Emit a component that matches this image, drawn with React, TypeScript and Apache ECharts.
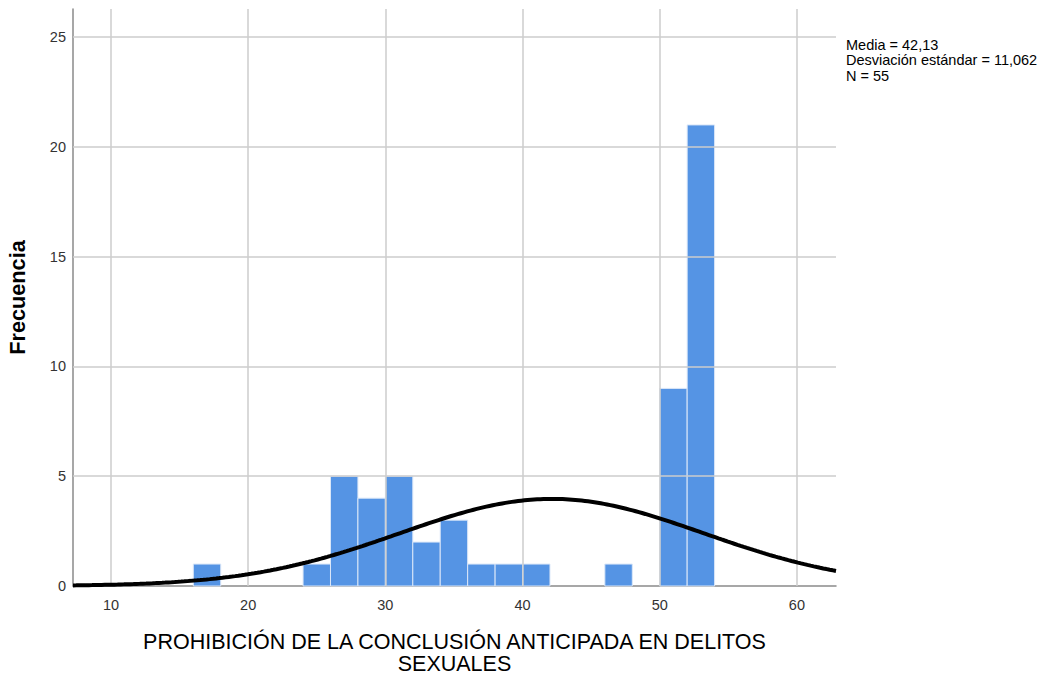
import React, { useEffect, useRef } from "react";
import * as echarts from "echarts";

const binStarts = [16, 24, 26, 28, 30, 32, 34, 36, 38, 40, 46, 50, 52];
const binCounts = [1, 1, 5, 4, 5, 2, 3, 1, 1, 1, 1, 9, 21];
const BIN_WIDTH = 2;
const MEAN = 42.13;
const SD = 11.062;
const N = 55;
const xTicks = [10, 20, 30, 40, 50, 60];
const yTicks = [0, 5, 10, 15, 20, 25];
const X_MIN = 7.23;
const X_MAX = 62.85;
const Y_MAX = 26.28;
const statsLines = ["Media = 42,13", "Desviación estándar = 11,062", "N = 55"];
const xTitle = "PROHIBICIÓN DE LA CONCLUSIÓN ANTICIPADA EN DELITOS\nSEXUALES";
const yTitle = "Frecuencia";

function normalCurve(): number[][] {
  const pts: number[][] = [];
  const steps = 240;
  for (let i = 0; i <= steps; i++) {
    const x = X_MIN + ((X_MAX - X_MIN) * i) / steps;
    const z = (x - MEAN) / SD;
    const y = (N * BIN_WIDTH * Math.exp(-0.5 * z * z)) / (SD * Math.sqrt(2 * Math.PI));
    pts.push([x, y]);
  }
  return pts;
}

const FONT = "Liberation Sans, Arial, sans-serif";

export default function App() {
  const ref = useRef<HTMLDivElement>(null);
  useEffect(() => {
    if (!ref.current) return;
    const chart = echarts.init(ref.current, undefined, { renderer: "svg" });
    const gridColor = "#cccccc";
    const histData = binStarts.map((s, i) => [s, s + BIN_WIDTH, binCounts[i]]);
    chart.setOption({
      animation: false,
      backgroundColor: "#ffffff",
      textStyle: { fontFamily: FONT },
      grid: {
        left: 73,
        top: 9,
        right: 207,
        bottom: 91,
        containLabel: false,
        outerBoundsMode: "none",
      },
      xAxis: {
        type: "value",
        min: X_MIN,
        max: X_MAX,
        name: xTitle,
        nameLocation: "middle",
        nameGap: 45,
        nameTextStyle: {
          fontSize: 21.5,
          color: "#000",
          lineHeight: 22,
          verticalAlign: "top",
          fontFamily: FONT,
        },
        axisLine: { show: true, onZero: false, lineStyle: { color: "#8a8a8a", width: 1.5 } },
        axisTick: { show: false },
        splitLine: { show: false },
        axisLabel: {
          customValues: xTicks,
          fontSize: 14.5,
          color: "#333",
          margin: 11,
          fontFamily: FONT,
        },
      },
      yAxis: {
        type: "value",
        min: 0,
        max: Y_MAX,
        name: yTitle,
        nameLocation: "middle",
        nameGap: 45,
        nameRotate: 90,
        nameTextStyle: {
          fontSize: 21.7,
          fontWeight: "bold",
          color: "#000",
          fontFamily: FONT,
        },
        axisLine: { show: true, lineStyle: { color: "#8a8a8a", width: 1.5 } },
        axisTick: { show: false },
        splitLine: { show: false },
        axisLabel: {
          customValues: yTicks,
          fontSize: 14.5,
          color: "#333",
          margin: 7,
          fontFamily: FONT,
        },
      },
      series: [
        {
          type: "line",
          data: [],
          silent: true,
          markLine: {
            symbol: "none",
            silent: true,
            label: { show: false },
            lineStyle: { color: gridColor, width: 1.5, type: "solid" },
            data: [
              ...xTicks.map((v) => ({ xAxis: v })),
              ...yTicks.filter((v) => v > 0).map((v) => ({ yAxis: v })),
            ],
          },
        },
        {
          type: "custom",
          data: histData,
          renderItem: (params: any, api: any) => {
            const p0 = api.coord([api.value(0), api.value(2)]);
            const p1 = api.coord([api.value(1), 0]);
            return {
              type: "rect",
              shape: { x: p0[0], y: p0[1], width: p1[0] - p0[0], height: p1[1] - p0[1] },
              style: { fill: "#5594e4", stroke: "#dbe7f8", lineWidth: 1 },
            };
          },
          encode: { x: [0, 1], y: 2 },
          z: 3,
        },
        {
          type: "line",
          data: normalCurve(),
          showSymbol: false,
          symbol: "none",
          smooth: false,
          lineStyle: { color: "#000", width: 4 },
          z: 5,
        },
      ],
      graphic: [
        {
          type: "text",
          left: 846,
          top: 37,
          style: {
            text: statsLines.join("\n"),
            fontSize: 14.5,
            lineHeight: 15.5,
            fill: "#000",
            fontFamily: FONT,
          },
        },
      ],
    });
    return () => chart.dispose();
  }, []);
  return (
    <div
      ref={ref}
      style={{ position: "fixed", left: 0, top: 0, width: 1043, height: 677, background: "#fff" }}
    />
  );
}
